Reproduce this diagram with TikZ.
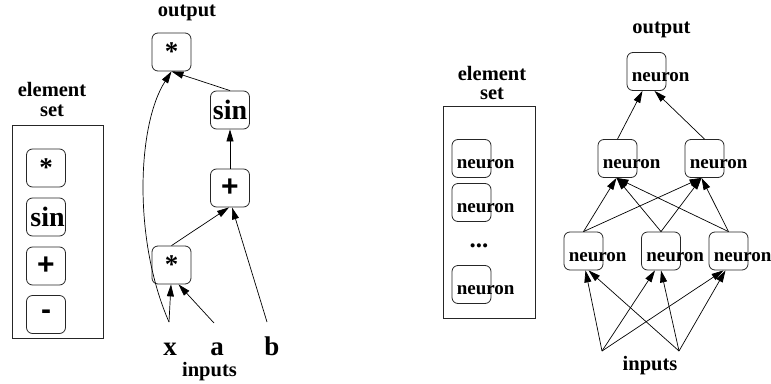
\documentclass[tikz,border=0pt]{standalone}
\usepackage{fontspec}
\setmainfont{Liberation Serif}
\newfontfamily\symsans{Liberation Sans}
\usetikzlibrary{arrows.meta,calc}
\begin{document}
\begin{tikzpicture}[x=1pt,y=-1pt,
  box/.style={draw=black!85, rounded corners=6pt, line width=0.8pt, minimum width=39pt, minimum height=38pt, inner sep=0pt, font=\bfseries\fontsize{20}{24}\selectfont},
  star/.style={font=\bfseries\fontsize{27}{30}\selectfont},
  pm/.style={font=\symsans\bfseries\fontsize{30}{32}\selectfont},
  lbl/.style={font=\bfseries\fontsize{20.5}{24}\selectfont, inner sep=0pt},
  big/.style={font=\bfseries\fontsize{27}{30}\selectfont, inner sep=0pt},
  sinf/.style={font=\bfseries\fontsize{28}{30}\selectfont},
  nt/.style={font=\bfseries\fontsize{19}{22}\selectfont, inner sep=0pt, anchor=base west},
  arr/.style={-{Triangle[length=12pt,width=7pt]}, line width=0.7pt},
  frame/.style={draw=black!85, line width=0.8pt}]
\useasboundingbox (0,0) rectangle (771,383);

% ---------- left: element set ----------
\node[lbl, anchor=base] (elL1) at (52,96) {element};
\node[lbl, anchor=base] (elL2) at (52,116) {set};
\draw[frame] (12,125) rectangle (103,338);
\node[box, star] (e1) at (46,168) {\raisebox{1pt}{*}};
\node[box, sinf] (e2) at (46,217) {\hspace{3pt}sin};
\node[box, pm] (e3) at (46,266) {\raisebox{-3pt}{+}};
\node[box, pm] (e4) at (46,314.5) {-};

% ---------- left: expression tree ----------
\node[lbl, anchor=base] (outL) at (187,16) {output};
\node[box, star] (t1) at (171.5,52) {\raisebox{1pt}{*}};
\node[box, sinf] (sinT) at (230,110) {sin};
\node[box, pm] (plusT) at (230,188) {\raisebox{-3pt}{+}};
\node[box, star] (t4) at (171.5,265) {\raisebox{1pt}{*}};
\node[big, anchor=base] (xL) at (170,355) {x};
\node[big, anchor=base] (aL) at (217,355) {a};
\node[big, anchor=base] (bL) at (272,355) {b};
\node[lbl, anchor=base] (inL) at (209.5,376) {inputs};
\coordinate (xs) at (169,322);
\coordinate (as) at (214,323);
\coordinate (bs) at (267,322);

\draw[arr] (xs) -- ([xshift=-0.5pt]t4.south);
\draw[arr] (as) -- ([xshift=7pt]t4.south);
\draw[arr] (bs) -- ([xshift=2pt]plusT.south);
\draw[arr] (t4.north) -- ([xshift=-1pt]plusT.south);
\draw[arr] (plusT.north) -- (sinT.south);
\draw[arr] (sinT.north) -- (t1.south);
\draw[arr] (xs) .. controls (133,240) and (137,125) .. (t1.south);

% ---------- right: element set ----------
\node[lbl, anchor=base] (elR1) at (492,80) {element};
\node[lbl, anchor=base] (elR2) at (492,99.5) {set};
\draw[frame] (443,106) rectangle (535,318);
\node[box] (en1) at (471.5,158.5) {};
\node[nt] (en1t) at ($(en1.west)+(5,10)$) {neuron};
\node[box] (en2) at (471.5,202.5) {};
\node[nt] (en2t) at ($(en2.west)+(5,10)$) {neuron};
\node[lbl, anchor=base, font=\bfseries\fontsize{25}{26}\selectfont] (dots) at (479,247) {...};
\node[box] (en3) at (471.5,284.5) {};
\node[nt] (en3t) at ($(en3.west)+(5,10)$) {neuron};

% ---------- right: network ----------
\node[lbl, anchor=base] (outR) at (661.5,33) {output};
\node[box] (top) at (646.5,71.5) {};
\node[nt] (topt) at ($(top.west)+(5,10)$) {neuron};
\node[box] (m1) at (617.5,158.5) {};
\node[nt] (m1t) at ($(m1.west)+(5,10)$) {neuron};
\node[box] (m2) at (704.5,158.5) {};
\node[nt] (m2t) at ($(m2.west)+(5,10)$) {neuron};
\node[box] (b1) at (583.5,251) {};
\node[nt] (b1t) at ($(b1.west)+(5,10)$) {neuron};
\node[box] (b2) at (661,251) {};
\node[nt] (b2t) at ($(b2.west)+(5,10)$) {neuron};
\node[box] (b3) at (728.5,251) {};
\node[nt] (b3t) at ($(b3.west)+(5,10)$) {neuron};
\node[lbl, anchor=base] (inR) at (650,370) {inputs};
\coordinate (i1) at (602,351);
\coordinate (i2) at (679,351);

\draw[arr] (m1.north) -- ([xshift=-4pt]top.south);
\draw[arr] (m2.north) -- ([xshift=8pt]top.south);
\foreach \b in {b1,b2,b3}{
  \draw[arr] (\b.north) -- ([xshift=-1pt]m1.south);
  \draw[arr] (\b.north) -- ([xshift=-3pt]m2.south);
}
\draw[arr] (i1) -- ([xshift=2pt]b1.south);
\draw[arr] (i2) -- ([xshift=5pt]b1.south);
\draw[arr] (i1) -- ([xshift=-6pt]b2.south);
\draw[arr] (i2) -- ([xshift=0pt]b2.south);
\draw[arr] (i1) -- ([xshift=-5pt]b3.south);
\draw[arr] (i2) -- ([xshift=-3pt]b3.south);
\end{tikzpicture}
\end{document}
